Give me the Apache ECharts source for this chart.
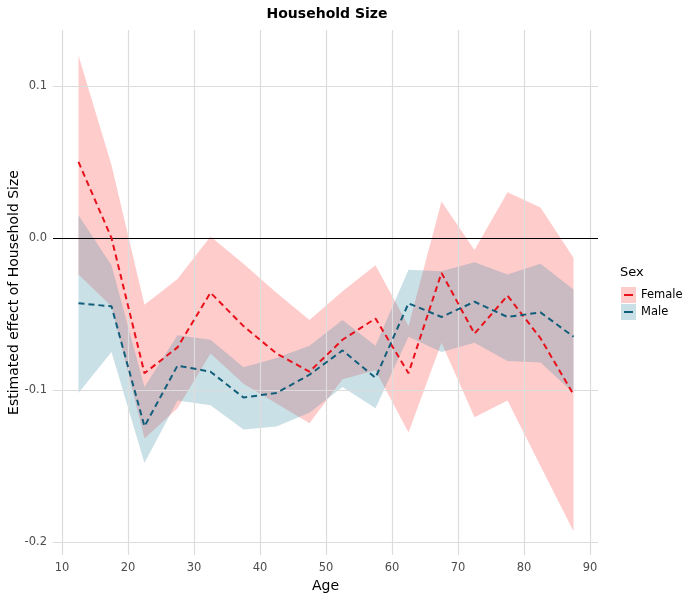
<!DOCTYPE html>
<html>
<head>
<meta charset="utf-8">
<script src="https://cdn.jsdelivr.net/npm/echarts@6/dist/echarts.min.js"></script>
<style>
html,body{margin:0;padding:0;background:#fff;}
#chart{width:700px;height:600px;}
</style>
</head>
<body>
<div id="chart"></div>
<script>
// ---- data ----
const ages = [12.5, 17.5, 22.5, 27.5, 32.5, 37.5, 42.5, 47.5, 52.5, 57.5, 62.5, 67.5, 72.5, 77.5, 82.5, 87.5];
const femaleEst   = [0.050, 0.000, -0.089, -0.072, -0.036, -0.058, -0.076, -0.088, -0.067, -0.053, -0.089, -0.023, -0.063, -0.038, -0.066, -0.103];
const femaleUpper = [0.120, 0.048, -0.044, -0.027, 0.001, -0.017, -0.036, -0.054, -0.035, -0.018, -0.058, 0.024, -0.008, 0.030, 0.020, -0.013];
const femaleLower = [-0.024, -0.045, -0.132, -0.112, -0.076, -0.096, -0.109, -0.122, -0.093, -0.087, -0.128, -0.069, -0.118, -0.107, -0.150, -0.193];
const maleEst   = [-0.043, -0.045, -0.124, -0.084, -0.088, -0.105, -0.102, -0.090, -0.074, -0.092, -0.043, -0.052, -0.042, -0.052, -0.049, -0.065];
const maleUpper = [0.015, -0.018, -0.098, -0.064, -0.067, -0.085, -0.079, -0.071, -0.054, -0.071, -0.021, -0.022, -0.016, -0.024, -0.017, -0.034];
const maleLower = [-0.102, -0.075, -0.148, -0.107, -0.110, -0.126, -0.124, -0.115, -0.098, -0.112, -0.065, -0.075, -0.069, -0.081, -0.082, -0.102];
const xTicks = [10, 20, 30, 40, 50, 60, 70, 80, 90];
const yTicks = [-0.2, -0.1, 0.0, 0.1];
const yTickLabels = ['-0.2', '-0.1', '0.0', '0.1'];
const sexes = ['Female', 'Male'];

// ---- styles ----
const FONT = 'DejaVu Sans';
const RED = '#e8101a';
const BLUE = '#125f7c';
const PINK = 'rgba(255,0,0,0.2)';
const LBLUE = 'rgba(43,131,160,0.25)';
const GRID = '#dcdcdc';

const pts = (arr) => ages.map((a, i) => [a, arr[i]]);
const bandData = (up, lo) => ages.map((a, i) => [a, up[i], lo[i]]);

function makeBand(name, up, lo, fill, z) {
  return {
    name: name, type: 'custom', z: z, silent: true,
    data: bandData(up, lo),
    encode: {x: 0, y: [1, 2]},
    itemStyle: {color: fill},
    renderItem: function (params, api) {
      if (params.dataIndex !== 0) return;
      const top = ages.map((a, i) => api.coord([a, up[i]]));
      const bot = ages.map((a, i) => api.coord([a, lo[i]])).reverse();
      return {
        type: 'polygon',
        shape: {points: top.concat(bot)},
        style: {fill: fill, stroke: null}
      };
    }
  };
}

const gridLines = {
  symbol: 'none', silent: true, animation: false, label: {show: false},
  lineStyle: {color: GRID, width: 1.2, type: 'solid'},
  data: xTicks.map(v => ({xAxis: v})).concat(yTicks.map(v => ({yAxis: v})))
};
const zeroLine = {
  symbol: 'none', silent: true, animation: false, label: {show: false},
  lineStyle: {color: '#000', width: 1.1, type: 'solid'},
  data: [{yAxis: 0}]
};

const chart = echarts.init(document.getElementById('chart'), null, {renderer: 'canvas'});
chart.setOption({
  animation: false,
  backgroundColor: '#fff',
  textStyle: {fontFamily: FONT},
  grid: {left: 53, right: 102, top: 30, bottom: 45, containLabel: false, outerBoundsMode: 'none'},
  xAxis: {
    type: 'value', min: 8.64, max: 91.21,
    name: 'Age', nameLocation: 'middle', nameGap: 24, nameMoveOverlap: false,
    nameTextStyle: {fontFamily: FONT, fontSize: 14, color: '#000'},
    axisLine: {show: false}, axisTick: {show: false}, splitLine: {show: false},
    axisLabel: {customValues: xTicks, fontFamily: FONT, fontSize: 11.5, color: '#4d4d4d', margin: 7,
      formatter: v => String(v)}
  },
  yAxis: {
    type: 'value', min: -0.2086, max: 0.1368,
    name: 'Estimated effect of Household Size', nameLocation: 'middle', nameGap: 32, nameRotate: 90,
    nameMoveOverlap: false,
    nameTextStyle: {fontFamily: FONT, fontSize: 14, color: '#000'},
    axisLine: {show: false}, axisTick: {show: false}, splitLine: {show: false},
    axisLabel: {customValues: yTicks, fontFamily: FONT, fontSize: 11.5, color: '#4d4d4d', margin: 6,
      formatter: v => { const i = yTicks.findIndex(t => Math.abs(t - v) < 1e-9); return i >= 0 ? yTickLabels[i] : ''; }}
  },
  legend: [
    {
      orient: 'vertical', left: 621, top: 287, padding: 0, itemWidth: 15, itemHeight: 16, itemGap: 1,
      selectedMode: false, icon: 'rect',
      textStyle: {fontFamily: FONT, fontSize: 11.5, color: '#000', lineHeight: 16},
      data: [
        {name: sexes[0], icon: 'rect', itemStyle: {color: PINK, borderWidth: 0}},
        {name: sexes[1], icon: 'rect', itemStyle: {color: LBLUE, borderWidth: 0}}
      ]
    },
    {
      orient: 'vertical', left: 624, top: 287, padding: 0, itemWidth: 9, itemHeight: 2, itemGap: 1,
      selectedMode: false, icon: 'rect',
      textStyle: {fontFamily: FONT, fontSize: 11.5, color: 'rgba(0,0,0,0)', lineHeight: 16},
      data: [
        {name: sexes[0], icon: 'rect', itemStyle: {color: RED, borderWidth: 0}},
        {name: sexes[1], icon: 'rect', itemStyle: {color: BLUE, borderWidth: 0}}
      ]
    }
  ],
  graphic: [
    {type: 'text', x: 327, y: 14, silent: true,
      style: {text: 'Household Size', fontFamily: FONT, fontSize: 14, fontWeight: 'bold', fill: '#000',
        textAlign: 'center', textVerticalAlign: 'middle'}},
    {type: 'text', x: 620, y: 273, silent: true,
      style: {text: 'Sex', fontFamily: FONT, fontSize: 13, fill: '#000',
        textAlign: 'left', textVerticalAlign: 'middle'}}
  ],
  series: [
    {name: 'gridlines', type: 'line', data: pts(femaleEst), symbol: 'none', z: 1, silent: true,
      lineStyle: {opacity: 0}, itemStyle: {opacity: 0}, markLine: gridLines},
    makeBand(sexes[0], femaleUpper, femaleLower, PINK, 2),
    makeBand(sexes[1], maleUpper, maleLower, LBLUE, 3),
    {name: 'zero', type: 'line', data: pts(femaleEst), symbol: 'none', z: 5, silent: true,
      lineStyle: {opacity: 0}, itemStyle: {opacity: 0}, markLine: zeroLine},
    {name: sexes[0], type: 'line', data: pts(femaleEst), symbol: 'none', z: 6, silent: true,
      itemStyle: {color: RED}, lineStyle: {color: RED, width: 2, type: [6, 4]}},
    {name: sexes[1], type: 'line', data: pts(maleEst), symbol: 'none', z: 7, silent: true,
      itemStyle: {color: BLUE}, lineStyle: {color: BLUE, width: 2, type: [6, 4]}}
  ]
});
</script>
</body>
</html>
